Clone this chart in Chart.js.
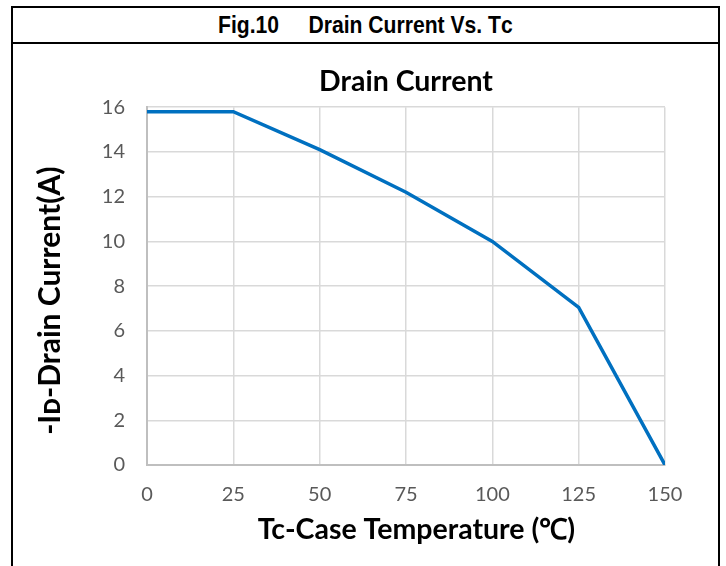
<!DOCTYPE html>
<html>
<head>
<meta charset="utf-8">
<script src="https://cdn.jsdelivr.net/npm/chart.js@4.4.0/dist/chart.umd.min.js"></script>
<style>
  html, body { margin: 0; padding: 0; background: #fff; }
  body { width: 726px; height: 566px; position: relative; overflow: hidden; }
  .frame {
    position: absolute; left: 11px; top: 6px; width: 705px; height: 580px;
    border: 2px solid #000; border-bottom: none;
  }
  .header {
    height: 34px; border-bottom: 2px solid #000; text-align: center;
    font-family: "Liberation Sans", Arial, sans-serif;
    font-weight: bold; font-size: 24px; line-height: 34px;
  }
  .header span { display: inline-block; transform: scaleX(0.88); white-space: pre; }
  .chart-box { position: absolute; left: 0; top: 36px; width: 705px; height: 524px; }
</style>
</head>
<body>
<div class="frame">
  <div class="header"><span>Fig.10     Drain Current Vs. Tᴄ</span></div>
  <div class="chart-box"><canvas id="grafico"></canvas></div>
</div>
<script>
// Datos
const temperaturas = [0, 25, 50, 75, 100, 125, 150];
const corriente = [15.8, 15.8, 14.1, 12.2, 10.0, 7.05, 0];
const ticksY = [0, 2, 4, 6, 8, 10, 12, 14, 16];
const ticksX = [0, 25, 50, 75, 100, 125, 150];

const fuente = 'Lato, "Open Sans", sans-serif';

const ctx = document.getElementById('grafico');
new Chart(ctx, {
    type: 'line',
    data: {
        datasets: [{
            label: 'Drain Current',
            data: temperaturas.map((t, i) => ({ x: t, y: corriente[i] })),
            borderColor: '#0070C0',
            borderWidth: 3.5,
            pointRadius: 0,
            tension: 0,
            fill: false
        }]
    },
    options: {
        responsive: true,
        maintainAspectRatio: false,
        animation: false,
        layout: { padding: { left: 0, right: 53, top: 0, bottom: 0 } },
        plugins: {
            legend: { display: false },
            tooltip: { enabled: false },
            title: {
                display: true,
                fullSize: false, // centrado sobre el área del gráfico
                text: 'Drain Current',
                color: '#000',
                font: { family: fuente, size: 28.5, weight: 'bold' },
                padding: { top: 21, bottom: 8 }
            }
        },
        scales: {
            x: {
                type: 'linear',
                min: 0, max: 150,
                afterBuildTicks: (s) => { s.ticks = ticksX.map(v => ({ value: v })); },
                afterFit: (s) => { s.height = 103; },
                ticks: { color: '#595959', font: { family: fuente, size: 20 }, padding: 18 },
                grid: { color: '#d9d9d9', lineWidth: 1.5, drawTicks: false },
                border: { color: '#bfbfbf', width: 2 },
                title: {
                    display: true,
                    // espacios al inicio para correr el texto a la derecha como en la figura
                    text: '   Tc-Case Temperature (℃)',
                    color: '#000',
                    font: { family: fuente, size: 28.5, weight: 'bold' },
                    padding: { top: 4, bottom: 21 }
                }
            },
            y: {
                min: 0, max: 16,
                afterBuildTicks: (s) => { s.ticks = ticksY.map(v => ({ value: v })); },
                afterFit: (s) => { s.width = 134; },
                ticks: { color: '#595959', font: { family: fuente, size: 20 }, padding: 22 },
                grid: { color: '#d9d9d9', lineWidth: 1.5, drawTicks: false },
                border: { color: '#bfbfbf', width: 2 },
                title: {
                    display: true,
                    text: '-Iᴅ-Drain Current(A)    ',
                    color: '#000',
                    font: { family: fuente, size: 30, weight: 'bold' },
                    padding: { top: 19, bottom: 0 }
                }
            }
        }
    }
});
</script>
</body>
</html>
